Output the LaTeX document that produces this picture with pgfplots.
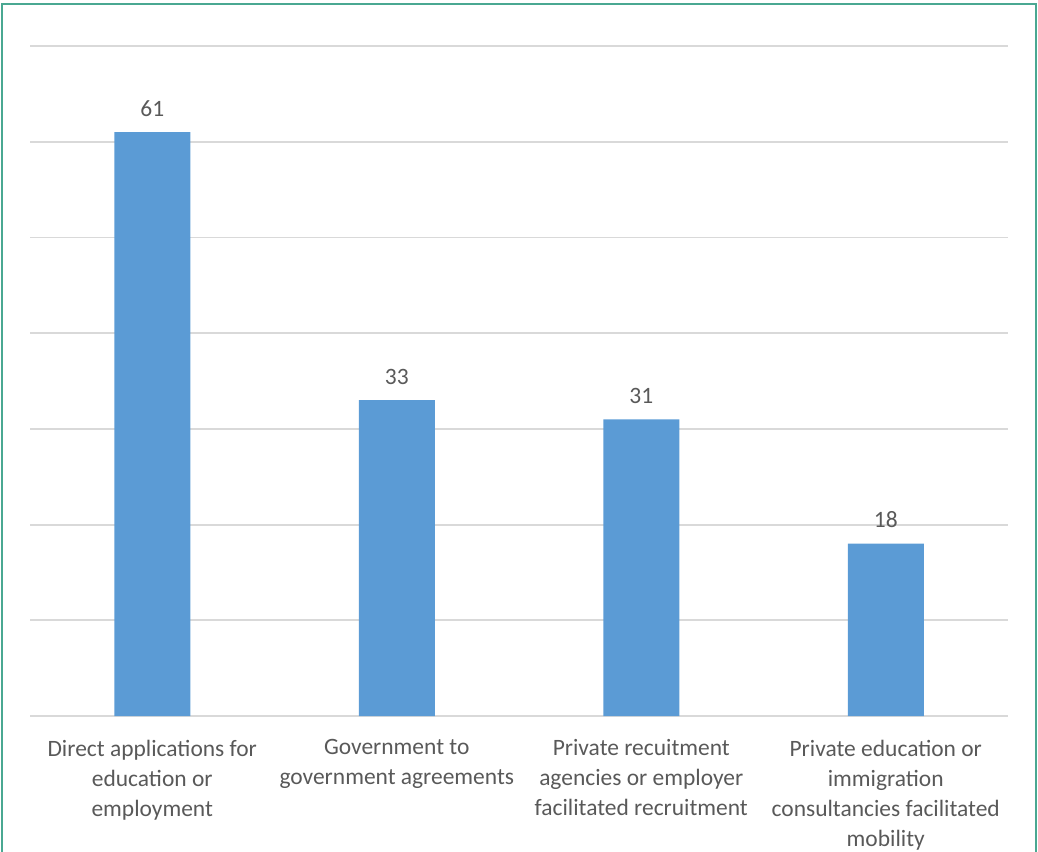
\documentclass[border=0pt]{standalone}
\usepackage{pgfplots}
\pgfplotsset{compat=1.18}
\usepackage{fontspec}
\setmainfont{Carlito}
\definecolor{barblue}{HTML}{5B9BD5}
\definecolor{gridgray}{HTML}{D9D9D9}
\definecolor{txtgray}{HTML}{595959}
\definecolor{frame}{HTML}{4AA892}
\begin{document}
\begin{tikzpicture}
\path[use as bounding box] (-22.5pt,-101.25pt) rectangle (756pt,537pt);
\draw[frame, line width=2.2pt] (-21pt,-110pt) -- (-21pt,534pt) -- (754.5pt,534pt) -- (754.5pt,-110pt);
\begin{axis}[
  scale only axis,
  width=733.5pt, height=502.5pt,
  ymin=0, ymax=70,
  xmin=-0.5, xmax=3.5,
  ytick={0,10,...,70},
  yticklabels={},
  ymajorgrids,
  grid style={gridgray, line width=1.4pt},
  axis x line*=bottom,
  axis y line*=left,
  y axis line style={draw=none},
  ytick style={draw=none},
  x axis line style={gridgray, line width=1.4pt, -},
  xtick=data,
  xtick style={draw=none},
  xticklabels={{Direct applications for\\education or\\employment},{Government to\\government agreements},{Private recuitment\\agencies or employer\\facilitated recruitment},{Private education or\\immigration\\consultancies facilitated\\mobility}},
  xticklabel style={align=center, font=\fontsize{17.6}{22.5}\selectfont, text=txtgray, anchor=north, yshift=-10pt},
  ybar, bar width=57pt,
  nodes near coords,
  /pgf/number format/assume math mode=true,
  nodes near coords style={font=\fontsize{17.6}{20}\selectfont, text=txtgray, anchor=base, yshift=12pt},
]
\addplot[fill=barblue, draw=none] coordinates {(0,61) (1,33) (2,31) (3,18)};
\end{axis}
\end{tikzpicture}
\end{document}
